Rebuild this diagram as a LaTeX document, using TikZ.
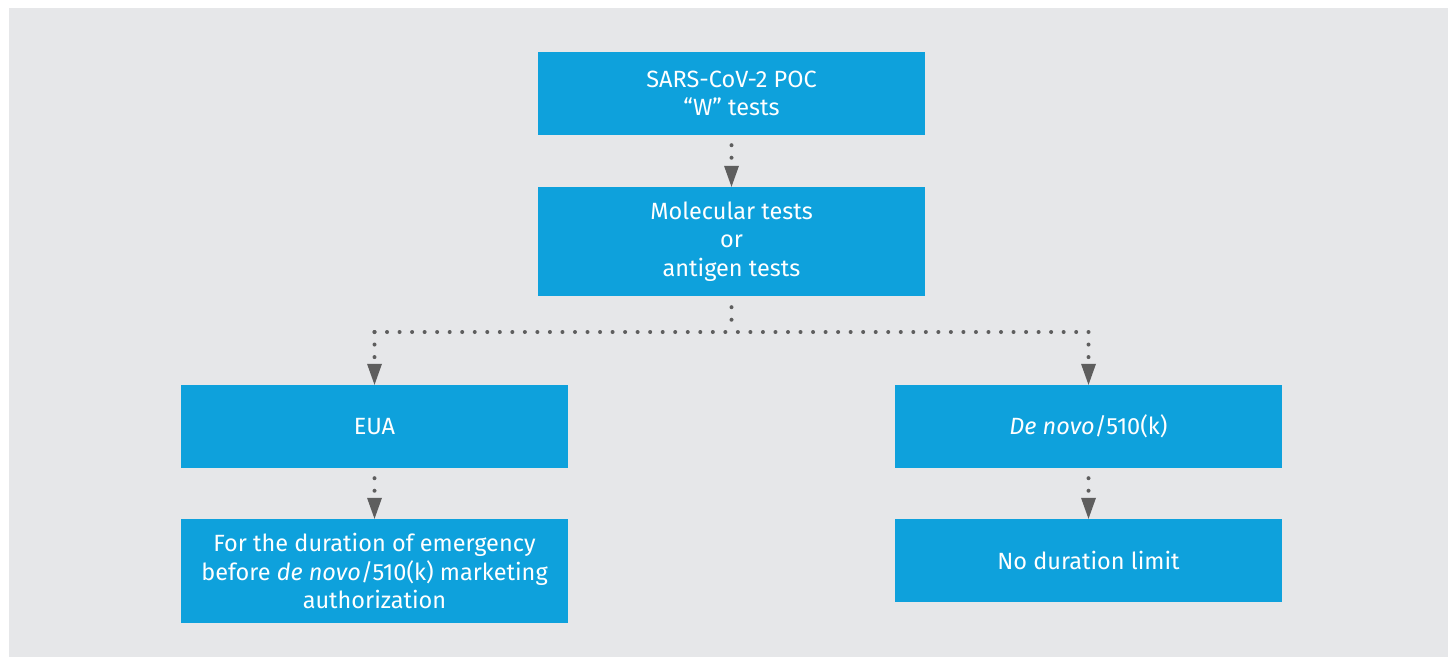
\documentclass[tikz,border=0pt]{standalone}
\usepackage{fontspec}
\setmainfont{Fira Sans}
\usetikzlibrary{arrows.meta}
\definecolor{bggrey}{HTML}{E6E7E9}
\definecolor{boxblue}{HTML}{0EA1DC}
\definecolor{dotgrey}{HTML}{5E5E5E}
\tikzset{
  box/.style={fill=boxblue, draw=none, text=white, minimum width=387pt, inner sep=0pt,
    align=center, font=\fontsize{23.5}{28.5}\selectfont},
  dotline/.style={draw=dotgrey, line width=4pt, line cap=round, dash pattern=on 0pt off 12.53pt},
  tip/.style={-{Triangle[width=15pt,length=21pt,line width=0pt]}},
}
\begin{document}
\begin{tikzpicture}[x=1pt,y=-1pt]
\useasboundingbox (0,0) rectangle (1450,657);
\fill[bggrey] (9,8) rectangle (1448,657);

\node[box, minimum height=83pt] (poc) at (731.5,93.5) {SARS-CoV-2 POC\\``W'' tests};
\node[box, minimum height=109pt] (mol) at (731.5,241.5) {Molecular tests\\or\\antigen tests};
\node[box, minimum height=83pt] (eua) at (374.5,426.5) {EUA};
\node[box, minimum height=83pt] (dn) at (1088.5,426.5) {\textit{De novo}/510(k)};
\node[box, minimum height=104pt] (dur) at (374.5,571) {For the duration of emergency\\before \textit{de novo}/510(k) marketing\\authorization};
\node[box, minimum height=83pt] (nolim) at (1088.5,560.5) {No duration limit};

\coordinate (jc) at (mol.south |- 0,332);
\coordinate (jl) at (eua.north |- 0,332);
\coordinate (jr) at (dn.north |- 0,332);

\draw[dotline, tip, shorten <=10pt] (poc.south) -- (mol.north);
\draw[dotline, shorten <=11pt] (mol.south) -- (jc);
\draw[dotline] (jl) -- (jr);
\draw[dotline, tip] (jl) -- (eua.north);
\draw[dotline, tip] (jr) -- (dn.north);
\draw[dotline, tip, shorten <=10pt] (eua.south) -- (dur.north);
\draw[dotline, tip, shorten <=10pt] (dn.south) -- (nolim.north);
\end{tikzpicture}
\end{document}
